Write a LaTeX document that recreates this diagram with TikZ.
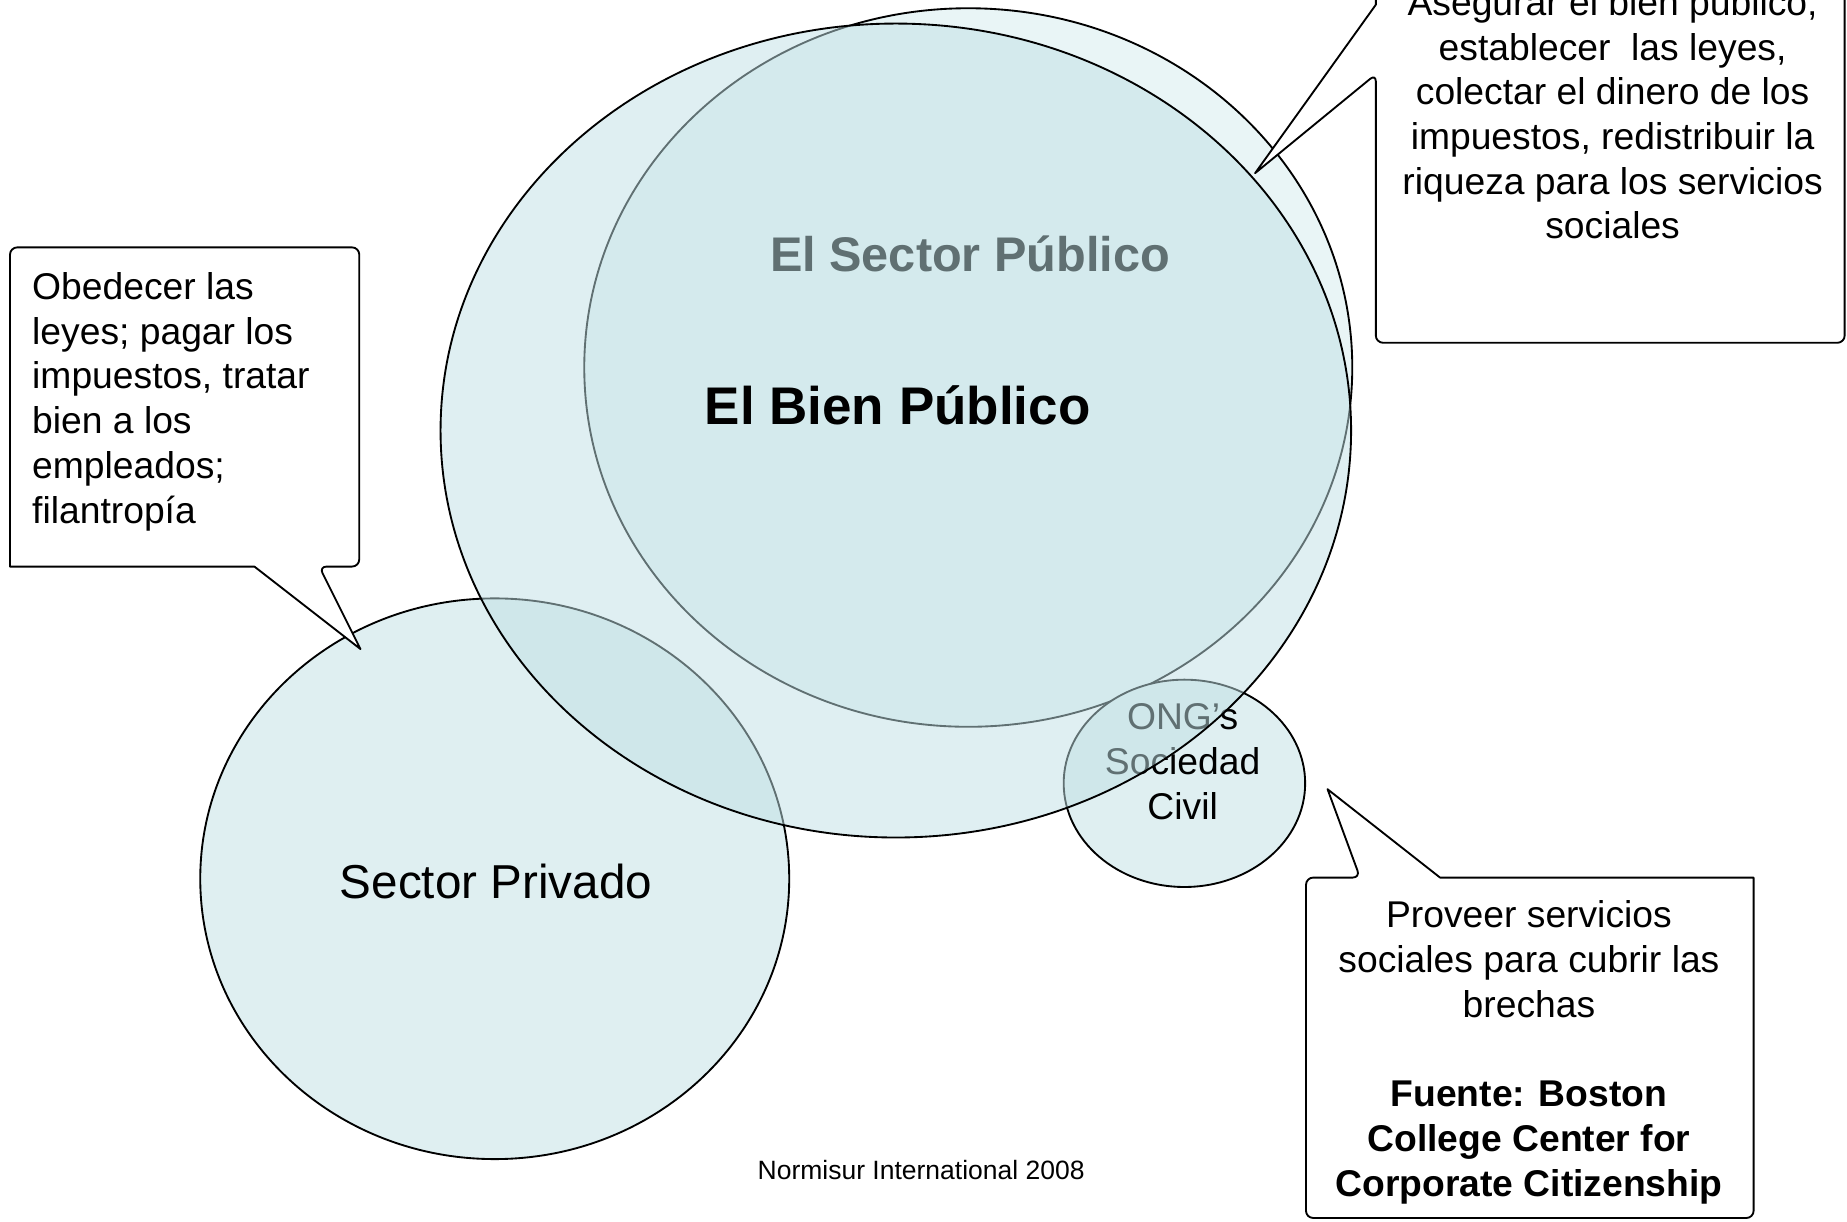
\documentclass[tikz,border=0pt]{standalone}
\usepackage{fontspec}
\setmainfont{Liberation Sans}
\definecolor{publicfill}{RGB}{233,245,246}
\definecolor{privatefill}{RGB}{223,239,241}
\definecolor{goodfill}{RGB}{192,224,229}
\tikzset{
  blob/.style={draw=black, line width=0.9pt},
  bubble/.style={draw=black, fill=white, line width=0.9pt, line join=round},
  txt/.style={inner sep=0pt, font=\fontsize{18pt}{21.6pt}\selectfont},
}
\begin{document}
\begin{tikzpicture}[x=0.02cm, y=-0.02cm]
\useasboundingbox (0,0) rectangle (1568,1037);
\clip (0,0) rectangle (1568,1037);
\draw[blob, fill=publicfill] (822,312) ellipse (326 and 305);
\draw[blob, fill=privatefill] (420,746) ellipse (250 and 238);
\draw[blob, fill=privatefill] (1005.5,665) ellipse (102.5 and 88);
\node[anchor=base, inner sep=0pt, font=\bfseries\fontsize{23.5pt}{28pt}\selectfont] (publico) at (823.5,230.6) {El Sector Público};
\node[txt, anchor=north, align=center] (ong) at (1004,597) {ONG’s\\Sociedad\\Civil};
\draw[blob, fill=goodfill, fill opacity=0.5] (760.5,365.5) ellipse (386.5 and 345.5);
\node[anchor=base, inner sep=0pt, font=\bfseries\fontsize{25.6pt}{30pt}\selectfont] (bien) at (762,360) {El Bien Público};
\node[anchor=base, inner sep=0pt, font=\fontsize{23pt}{27pt}\selectfont] (privado) at (421,762.5) {Sector Privado};
\node[anchor=base, inner sep=0pt, font=\fontsize{12.8pt}{15pt}\selectfont] (normisur) at (782,1001) {Normisur International 2008};

\draw[bubble, rounded corners=3.5pt] (150,210) -- (305,210) -- (305,481) -- (271,481) [sharp corners] -- (306,551) -- (216,481) -- (8.5,481) [rounded corners=3.5pt] -- (8.5,210) -- cycle;
\node[txt, anchor=north west, align=left] (obedecer) at (27,231) {Obedecer las\\leyes; pagar los\\impuestos, tratar\\bien a los\\empleados;\\filantropía};

\draw[bubble, rounded corners=3.5pt] (1368,-60) -- (1566,-60) -- (1566,291) -- (1168,291) -- (1168,63) [sharp corners] -- (1065.5,147) -- (1168,4) -- (1168,-60) [rounded corners=3.5pt] -- cycle;
\node[txt, anchor=north, align=center] (asegurar) at (1369,-10.5) {Asegurar el bien público;\\establecer \ las leyes,\\colectar el dinero de los\\impuestos, redistribuir la\\riqueza para los servicios\\sociales};

\draw[bubble, rounded corners=3.5pt] (1300,1034) -- (1108.7,1034) -- (1108.7,745) -- (1154.6,745) [sharp corners] -- (1127,670) -- (1222.5,745) -- (1488.7,745) [rounded corners=3.5pt] -- (1488.7,1034) -- cycle;
\node[txt, anchor=north, align=center] (proveer) at (1298,764.5) {Proveer servicios\\sociales para cubrir las\\brechas\\[21.6pt]\textbf{Fuente: Boston}\\\textbf{College Center for}\\\textbf{Corporate Citizenship}};
\end{tikzpicture}
\end{document}
